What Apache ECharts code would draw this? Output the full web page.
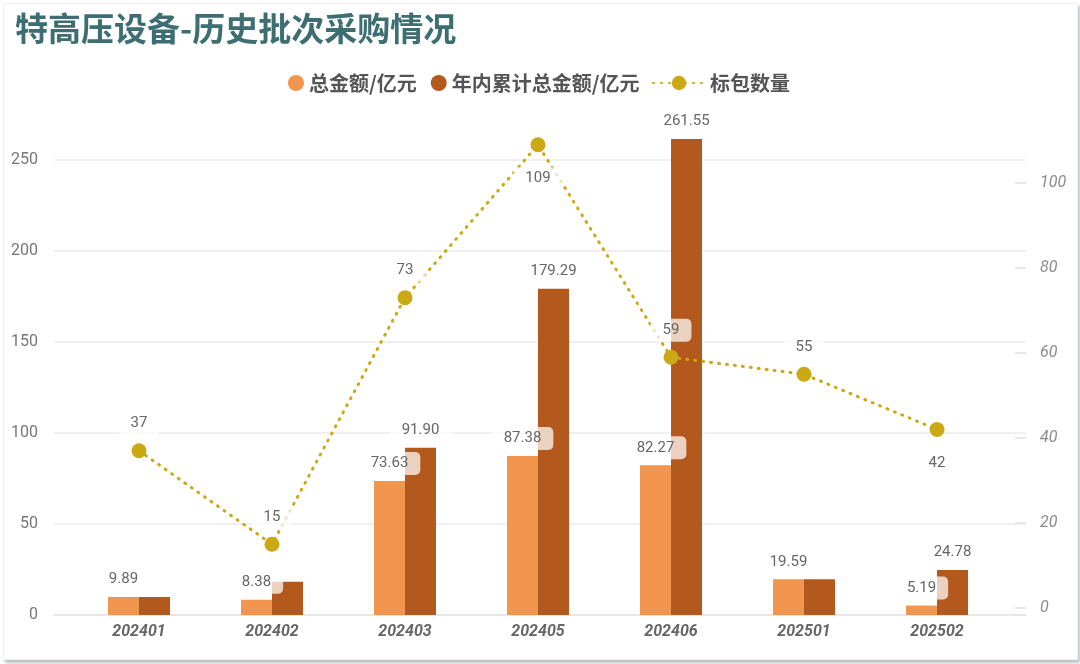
<!DOCTYPE html>
<html>
<head>
<meta charset="utf-8">
<title>特高压设备-历史批次采购情况</title>
<script src="https://cdn.jsdelivr.net/npm/echarts@6/dist/echarts.min.js"></script>
<style>
  html, body { margin: 0; padding: 0; background: #ffffff; }
  .card {
    position: absolute; left: 3px; top: 3px; width: 1073px; height: 655px;
    background: #fff; border: 1px solid #f1f1f1;
    box-shadow: 2px 3px 3px rgba(60, 70, 80, 0.35);
  }
  .chart { position: absolute; left: 0; top: 0; width: 1080px; height: 664px; }
</style>
</head>
<body>
<div class="card"></div>
<div class="chart"></div>
<script>
// 特高压设备 历史批次采购

const categories = ['202401', '202402', '202403', '202405', '202406', '202501', '202502'];
const totalAmount = [9.89, 8.38, 73.63, 87.38, 82.27, 19.59, 5.19];        // 总金额/亿元
const cumulativeAmount = [9.89, 18.27, 91.90, 179.29, 261.55, 19.59, 24.78]; // 年内累计总金额/亿元
const lotCount = [37, 15, 73, 109, 59, 55, 42];                              // 标包数量
const leftTicks = [0, 50, 100, 150, 200, 250];
const rightTicks = [0, 20, 40, 60, 80, 100];

(function () {
    let myChart = echarts.init(document.querySelector('.chart'));

    const numFont = 'Roboto, "Noto Sans", sans-serif';
    const cjkFont = '"Noto Sans CJK SC", "Noto Sans", sans-serif';

    // 标签底色，压在柱子上时呈浅色
    const labelBox = {
        color: '#666',
        fontSize: 15,
        fontFamily: numFont,
        backgroundColor: 'rgba(255,255,255,0.72)',
        borderRadius: 5,
        padding: [4, 12]
    };

    // 重叠时不显示的累计标签
    const hideCum = ['202401', '202402', '202501'];

    const idx = categories.map((c, i) => i);

    option = {
        title: {
            text: '特高压设备-历史批次采购情况',
            left: 10,
            top: 7,
            textStyle: {
                color: '#3D6E72',
                fontSize: 33,
                fontWeight: 'bold',
                fontFamily: cjkFont
            }
        },
        legend: [
            {
                data: ['总金额/亿元', '年内累计总金额/亿元'],
                left: 283,
                top: 68,
                icon: 'circle',
                itemWidth: 16,
                itemHeight: 16,
                itemGap: 14,
                textStyle: { color: '#555', fontSize: 20, fontWeight: 'bold', fontFamily: cjkFont }
            },
            {
                data: ['标包数量'],
                left: 647,
                top: 68,
                itemWidth: 52,
                itemHeight: 18,
                textStyle: { color: '#555', fontSize: 20, fontWeight: 'bold', fontFamily: cjkFont }
            }
        ],
        grid: {
            left: 54,
            right: 54,
            top: 115,
            bottom: 49
        },
        xAxis: {
            type: 'value',
            min: -0.639,
            max: 6.669,
            splitLine: { show: false },
            axisTick: { show: false },
            axisLine: { show: true, onZero: false, lineStyle: { color: '#e3e3e3', width: 1.5 } },
            axisLabel: {
                customValues: idx,
                formatter: v => categories[v],
                color: '#666',
                fontSize: 16,
                fontWeight: 'bold',
                fontStyle: 'italic',
                fontFamily: numFont,
                margin: 9
            }
        },
        yAxis: [
            {
                type: 'value',
                min: 0,
                max: 274.7,
                axisLine: { show: false },
                axisTick: { show: false, customValues: leftTicks },
                splitLine: { show: true, lineStyle: { color: '#ebebeb', width: 1.5 } },
                axisLabel: {
                    customValues: leftTicks,
                    color: '#777',
                    fontSize: 16,
                    fontFamily: numFont,
                    margin: 16
                }
            },
            {
                type: 'value',
                min: -1.65,
                max: 116,
                position: 'right',
                axisLine: { show: false },
                axisTick: {
                    show: true,
                    inside: true,
                    length: 11,
                    customValues: rightTicks,
                    lineStyle: { color: '#e0e0e0', width: 1.5 }
                },
                splitLine: { show: false },
                axisLabel: {
                    customValues: rightTicks,
                    color: '#8c8c8c',
                    fontSize: 16,
                    fontStyle: 'italic',
                    fontFamily: numFont,
                    margin: 14
                }
            }
        ],
        series: [
            {
                name: '总金额/亿元',
                type: 'bar',
                barWidth: 31,
                barGap: '0%',
                itemStyle: { color: '#F2954F' },
                data: totalAmount.map((v, i) => [i, v]),
                label: Object.assign({
                    show: true,
                    position: 'top',
                    distance: 6,
                    formatter: p => p.value[1].toFixed(2)
                }, labelBox)
            },
            {
                name: '年内累计总金额/亿元',
                type: 'bar',
                barWidth: 31,
                barGap: '0%',
                itemStyle: { color: '#B3591D' },
                data: cumulativeAmount.map((v, i) => ({
                    value: [i, v],
                    label: { show: hideCum.indexOf(categories[i]) < 0 }
                })),
                label: Object.assign({
                    show: true,
                    position: 'top',
                    distance: 6,
                    formatter: p => p.value[1].toFixed(2)
                }, labelBox)
            },
            {
                name: '标包数量',
                type: 'line',
                yAxisIndex: 1,
                symbol: 'circle',
                symbolSize: 15,
                itemStyle: { color: '#CBA915' },
                lineStyle: { color: '#CBA915', width: 3, type: [1, 7], cap: 'round' },
                data: lotCount.map((v, i) => {
                    const below = (i === 3 || i === 6);
                    return {
                        value: [i, v],
                        label: { position: below ? 'bottom' : 'top', distance: below ? 15 : 8 }
                    };
                }),
                label: Object.assign({
                    show: true,
                    distance: 8,
                    formatter: p => p.value[1]
                }, labelBox)
            }
        ]
    };

    myChart.setOption(option);
})();
</script>
</body>
</html>
